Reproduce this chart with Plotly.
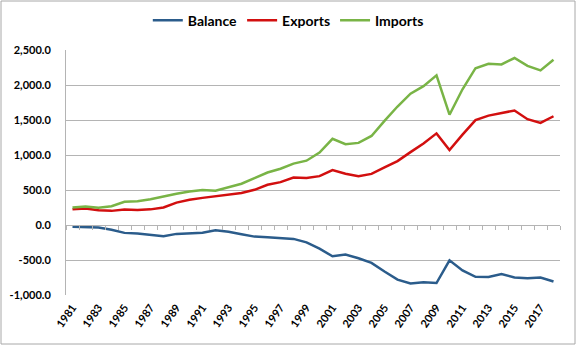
import plotly.graph_objects as go

years = list(range(1981, 2019))
balance = [-25.5, -28.0, -36.5, -67.1, -112.5, -122.2, -145.1, -159.6, -127.0, -117.7,
           -111.0, -76.9, -96.9, -132.5, -165.8, -174.2, -191.0, -198.4, -248.2, -337.1,
           -446.8, -422.4, -475.2, -541.6, -664.8, -779.8, -834.4, -818.4, -828.8, -505.2,
           -648.7, -740.6, -741.2, -700.5, -749.9, -761.9, -750.8, -808.0]
exports = [224.3, 237.0, 211.2, 201.8, 219.9, 215.9, 223.3, 250.2, 320.2, 359.9,
           387.4, 414.1, 439.6, 456.9, 502.9, 575.2, 612.1, 678.4, 670.4, 698.2,
           784.9, 731.3, 698.0, 730.4, 823.6, 913.0, 1040.9, 1165.2, 1308.8, 1070.3,
           1290.3, 1499.2, 1562.6, 1593.7, 1635.6, 1511.4, 1457.4, 1553.4]
imports = [249.8, 265.1, 247.6, 268.9, 332.4, 338.1, 368.4, 409.8, 447.2, 477.7,
           498.4, 491.0, 536.5, 589.4, 668.7, 749.4, 803.1, 876.8, 918.6, 1035.3,
           1231.7, 1153.7, 1173.3, 1272.1, 1488.3, 1692.8, 1875.3, 1983.6, 2137.6, 1575.5,
           1938.9, 2239.9, 2303.8, 2294.2, 2385.5, 2273.2, 2208.2, 2361.5]
y_tickvals = [-1000, -500, 0, 500, 1000, 1500, 2000, 2500]
y_ticktext = ["-1,000.0", "-500.0", "0.0", "500.0", "1,000.0", "1,500.0", "2,000.0", "2,500.0"]
x_labels = [str(y) for y in years[::2]]

FONT = "Lato"
GRID = "#B4B4B4"

fig = go.Figure()
fig.add_trace(go.Scatter(x=years, y=balance, name="Balance", mode="lines",
                         line=dict(color="#2B5C8B", width=2.5), xaxis="x2", yaxis="y"))
fig.add_trace(go.Scatter(x=years, y=exports, name="Exports", mode="lines",
                         line=dict(color="#D20F0F", width=2.5)))
fig.add_trace(go.Scatter(x=years, y=imports, name="Imports", mode="lines",
                         line=dict(color="#79B446", width=2.5)))

xr = [years[0] - 0.5, years[-1] + 0.5]
boundaries = [y - 0.5 for y in years] + [years[-1] + 0.5]

fig.update_layout(
    width=576, height=345,
    margin=dict(l=66, r=16, t=50, b=50, autoexpand=False),
    paper_bgcolor="white", plot_bgcolor="white",
    font=dict(family=FONT, color="#000000"),
    showlegend=True,
    legend=dict(orientation="h", x=0.45, xanchor="center", y=1.12, yanchor="middle",
                font=dict(family=FONT, size=14, weight="bold"), bgcolor="rgba(0,0,0,0)",
                itemwidth=30, tracegroupgap=0),
    xaxis=dict(range=xr, tickmode="array", tickvals=years[::2], ticktext=x_labels,
               tickangle=-55, ticks="", showline=False, showgrid=False, zeroline=False,
               automargin=False,
               tickfont=dict(family=FONT, size=11, weight="bold"), ticklabelstandoff=3),
    xaxis2=dict(range=xr, overlaying="x", anchor="free", position=1000/3500,
                showline=True, linecolor=GRID, linewidth=1, ticks="outside",
                tickmode="array", tickvals=boundaries, ticklen=4, tickcolor=GRID,
                showticklabels=False, showgrid=False, zeroline=False, automargin=False),
    yaxis=dict(range=[-1000, 2500], tickmode="array", tickvals=y_tickvals,
               ticktext=y_ticktext, showline=True, linecolor=GRID, linewidth=1,
               showgrid=True, gridcolor=GRID, gridwidth=1, zeroline=False, ticks="",
               automargin=False,
               tickfont=dict(family=FONT, size=11, weight="bold"), ticklabelstandoff=12),
    shapes=[dict(type="rect", xref="paper", yref="paper",
                 x0=(1 - 66) / 494, x1=(575 - 66) / 494,
                 y0=(295 - 344) / 245, y1=(295 - 1) / 245,
                 line=dict(color="#A8A8A8", width=1), fillcolor="rgba(0,0,0,0)", layer="below")],
)

fig.write_html("out.html")
